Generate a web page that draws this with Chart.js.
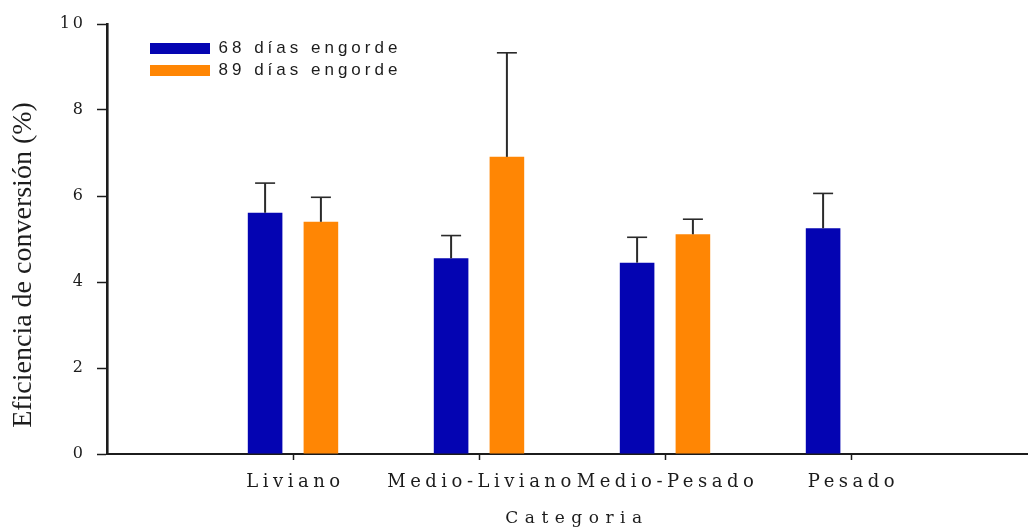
<!DOCTYPE html>
<html lang="es">
<head>
<meta charset="utf-8">
<title>Eficiencia de conversión por categoría</title>
<script src="https://cdn.jsdelivr.net/npm/chart.js@4.4.1/dist/chart.umd.min.js"></script>
<style>
  html, body { margin: 0; padding: 0; background: #ffffff; overflow: hidden; }
  #wrap { width: 1047px; height: 529px; }
</style>
</head>
<body>
<div id="wrap"><canvas id="chart" width="1047" height="529"></canvas></div>
<script>
// Categorías y series (eficiencia de conversión, %; error = desviación superior)
const categories = ['Liviano', 'Medio-Liviano', 'Medio-Pesado', 'Pesado'];
const seriesNames = ['68 días engorde', '89 días engorde'];
const dias68 = [5.61, 4.55, 4.45, 5.25];
const dias68Err = [0.69, 0.53, 0.59, 0.81];
const dias89 = [5.40, 6.91, 5.11, null];
const dias89Err = [0.57, 2.42, 0.35, null];
const yTicks = [0, 2, 4, 6, 8, 10];
const yTitle = 'Eficiencia de conversión (%)';
const xTitle = 'Categoria';

// The category axis runs from an empty slot on each side of the four groups
const pad = arr => [null, ...arr, null];
const labels = ['', ...categories, ''];

const BLUE = '#0404b2';
const ORANGE = '#ff8604';
const INK = '#1c1c1c';

// Wraps a drawing method so its text is painted with extra letter spacing
function spaced(obj, method, px, dx = 0, dy = 0) {
  const orig = obj[method];
  obj[method] = function (...args) {
    const ctx = this.ctx;
    const prev = ctx.letterSpacing;
    ctx.save();
    ctx.translate(dx, dy);
    ctx.letterSpacing = px;
    const r = orig.apply(this, args);
    ctx.restore();
    ctx.letterSpacing = prev || '0px';
    return r;
  };
}

const letterSpacingPlugin = {
  id: 'letterSpacing',
  afterLayout(chart) {
    if (chart.$spaced) return;
    chart.$spaced = true;
    spaced(chart.scales.x, 'drawLabels', '4.5px', 2.5, 1.5);
    spaced(chart.scales.x, 'drawTitle', '6.5px', 5, 0);
    spaced(chart.scales.y, 'drawLabels', '3px');
    // legend floats inside the plot, near the top-left corner
    chart.legend.left = 145;
    chart.legend.top = 35;
    spaced(chart.legend, 'draw', '4px');
  }
};

// Upper error bars drawn from the value scale
const errorBarPlugin = {
  id: 'errorBars',
  afterDatasetsDraw(chart) {
    const { ctx, scales: { y } } = chart;
    chart.data.datasets.forEach((ds, di) => {
      const meta = chart.getDatasetMeta(di);
      meta.data.forEach((bar, i) => {
        const v = ds.data[i];
        const e = ds.errors[i];
        if (v == null || e == null) return;
        const top = y.getPixelForValue(v + e);
        ctx.save();
        ctx.strokeStyle = '#2a2a2a';
        ctx.lineWidth = 2;
        ctx.beginPath();
        ctx.moveTo(bar.x, bar.y);
        ctx.lineTo(bar.x, top);
        ctx.stroke();
        ctx.lineWidth = 1.6;
        ctx.beginPath();
        ctx.moveTo(bar.x - 10, top);
        ctx.lineTo(bar.x + 10, top);
        ctx.stroke();
        ctx.restore();
      });
    });
  }
};

// Vertical title of the value axis
const yTitlePlugin = {
  id: 'yTitle',
  afterDraw(chart) {
    const { ctx, chartArea } = chart;
    ctx.save();
    ctx.translate(23.5, (chartArea.top + chartArea.bottom) / 2 + 26);
    ctx.rotate(-Math.PI / 2);
    ctx.font = '28px "Liberation Serif"';
    ctx.fillStyle = INK;
    ctx.textAlign = 'center';
    ctx.textBaseline = 'middle';
    ctx.fillText(yTitle, 0, 0);
    ctx.restore();
  }
};

const whiteBg = {
  id: 'whiteBg',
  beforeDraw(chart) {
    const { ctx, width, height } = chart;
    ctx.save();
    ctx.fillStyle = '#ffffff';
    ctx.fillRect(0, 0, width, height);
    ctx.restore();
  }
};

new Chart(document.getElementById('chart'), {
  type: 'bar',
  data: {
    labels: labels,
    datasets: [
      { label: seriesNames[0], data: pad(dias68), errors: pad(dias68Err), backgroundColor: BLUE, borderWidth: 0 },
      { label: seriesNames[1], data: pad(dias89), errors: pad(dias89Err), backgroundColor: ORANGE, borderWidth: 0 }
    ]
  },
  options: {
    responsive: false,
    devicePixelRatio: 1,
    animation: false,
    categoryPercentage: 0.6,
    barPercentage: 0.62,
    layout: { padding: { top: 24, right: 0, bottom: 0, left: 0 } },
    plugins: {
      legend: {
        position: 'chartArea',
        align: 'start',
        labels: {
          boxWidth: 60,
          boxHeight: 11,
          padding: 5,
          color: INK,
          font: { family: '"Liberation Sans", Arial, sans-serif', size: 17 }
        }
      },
      tooltip: { enabled: false }
    },
    scales: {
      x: {
        type: 'category',
        offset: false,
        grid: {
          offset: false,
          drawOnChartArea: false,
          drawTicks: true,
          tickLength: 6,
          tickWidth: 1.5,
          tickColor: c => (c.tick && c.tick.label) ? INK : 'rgba(0,0,0,0)'
        },
        border: { display: true, color: INK, width: 2 },
        ticks: {
          autoSkip: false,
          maxRotation: 0,
          padding: 10,
          color: INK,
          font: { family: '"DejaVu Serif", serif', size: 18 }
        },
        title: {
          display: true,
          text: xTitle,
          color: INK,
          padding: { top: 0, bottom: 0 },
          font: { family: '"DejaVu Serif", serif', size: 17 }
        },
        afterFit: s => { s.height = 75; }
      },
      y: {
        min: 0,
        max: 10,
        afterBuildTicks: s => { s.ticks = yTicks.map(v => ({ value: v })); },
        grid: {
          drawOnChartArea: false,
          drawTicks: true,
          tickLength: 10,
          tickWidth: 1.5,
          tickColor: INK
        },
        border: { display: true, color: INK, width: 2.6 },
        ticks: {
          padding: 11,
          color: INK,
          font: { family: '"DejaVu Serif", serif', size: 16 }
        },
        title: { display: false },
        afterFit: s => { s.width = 107; }
      }
    }
  },
  plugins: [whiteBg, letterSpacingPlugin, errorBarPlugin, yTitlePlugin]
});
</script>
</body>
</html>
